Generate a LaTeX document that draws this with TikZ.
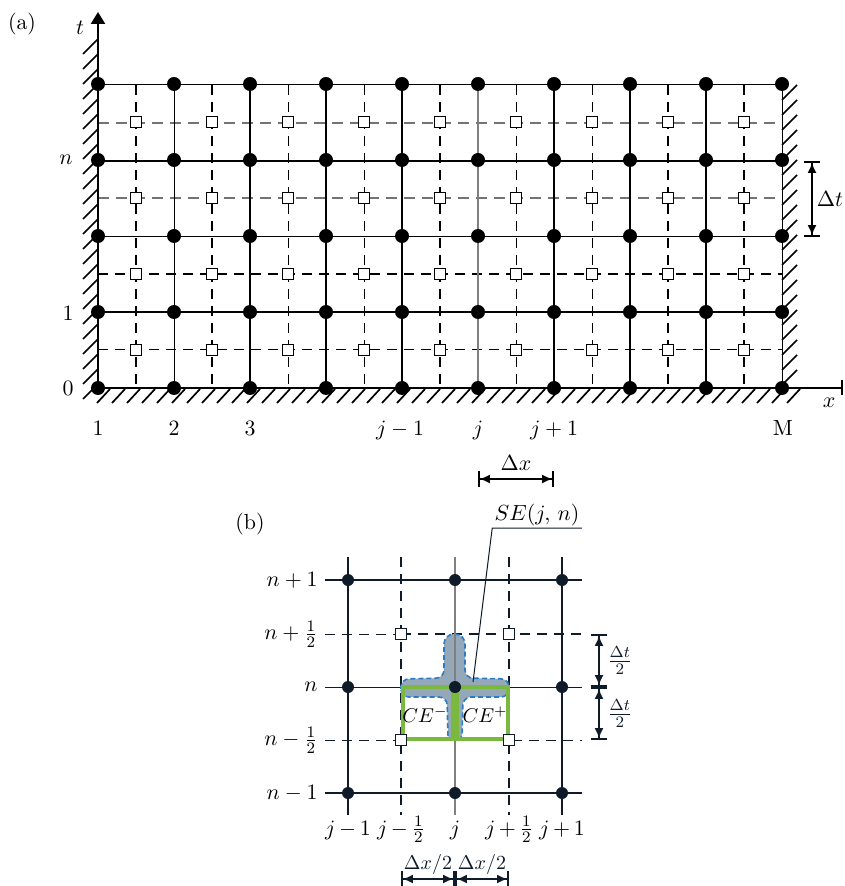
\documentclass[tikz,border=0pt,11pt]{standalone}
\usepackage{tikz}
\usetikzlibrary{arrows.meta, positioning, calc}
\usepackage{xcolor}
\definecolor{inkb}{HTML}{0F1B29}
\definecolor{cegreen}{HTML}{7AB840}
\definecolor{sefill}{HTML}{95A8B9}
\definecolor{seblue}{HTML}{2B7CC4}

\begin{document}
\begin{tikzpicture}[
    x=0.5pt, y=-0.5pt,
    lthick/.style={line width=1pt},
    lthin/.style={line width=0.5pt},
    lgray/.style={line width=0.6pt, black!50},
    dthick/.style={line width=1pt, dash pattern=on 5pt off 3.5pt},
    dthin/.style={line width=0.5pt, dash pattern=on 5pt off 3.5pt},
    dgray/.style={line width=0.6pt, black!55, dash pattern=on 5.5pt off 3.5pt},
    hatch/.style={line width=0.85pt},
    fullpt/.style={circle, fill=black, inner sep=0pt, minimum size=7pt},
    halfpt/.style={rectangle, draw=black, fill=white, line width=0.7pt, inner sep=0pt, minimum size=5.5pt},
    dimarr/.style={{Bar[width=8pt]Latex[length=5pt,width=4.5pt]}-{Latex[length=5pt,width=4.5pt]Bar[width=8pt]}, line width=0.9pt},
]
\useasboundingbox (0,0) rectangle (844,886);

% ── (a) staggered mesh ──────
\foreach \yy/\st in {350/dthin, 274/dthick, 198/dgray, 123/dgray}
    \draw[\st] (98,\yy) -- (782,\yy);
\foreach \xx/\st in {136/dthick, 212/dthick, 288/dthin, 364/dthin, 440/dthick, 516/dthin, 592/dthin, 668/dthick, 744/dthick}
    \draw[\st] (\xx,85) -- (\xx,388);
\foreach \yy/\st in {312/lthick, 237/lthin, 161/lthick, 85/lthin}
    \draw[\st] (98,\yy) -- (782,\yy);
\foreach \xx/\st in {174/lthin, 250/lthick, 326/lthick, 402/lthick, 478/lgray, 554/lthick, 630/lthick, 706/lthick, 782/lthin}
    \draw[\st] (\xx,85) -- (\xx,388);

% walls
\foreach \yy in {39,54,...,384}
    \draw[hatch] (98,\yy) -- ++(-15,15);
\foreach \xx in {110,125,...,810}
    \draw[hatch] (\xx,389) -- ++(-13,14);
\foreach \yy in {85,100,...,370}
    \draw[hatch] (782,\yy+15) -- ++(15,-15);

% axes
\coordinate (origin) at (98,388);
\coordinate (tend) at (98,12);
\coordinate (xend) at (843,388);
\draw[line width=1.2pt, -{Triangle[length=6pt,width=7pt]}] (origin) -- (tend);
\draw[line width=1.2pt, -{Bar[width=7.5pt]}] (origin) -- (xend);

% nodes of the mesh
\foreach \i in {0,...,9}
  \foreach \k in {0,...,4}
    \node[fullpt] (a-\i-\k) at ({98+76*\i},{388-76*\k}) {};
\foreach \i in {0,...,8}
  \foreach \k in {0,...,3}
    \node[halfpt] (ah-\i-\k) at ({136+76*\i},{350-76*\k}) {};

% labels
\node (lbla) at (22,24) {(a)};
\node (lblt) at (80,28) {$t$};
\node (lbln) at (66,160) {$n$};
\node (lbl1) at (68,313) {1};
\node (lbl0) at (68,388) {0};
\node (lblx) at (829,403) {$x$};
\foreach \xx/\tx in {98/1, 174/2, 250/3, 400/$j-1$, 478/$j$, 554/$j+1$, 783/M}
    \node[anchor=base] (xt-\xx) at (\xx,435) {\tx};

% spacings
\coordinate (dt-a) at (812,161);
\coordinate (dt-b) at (812,237);
\draw[dimarr] (dt-a) -- (dt-b) node[midway, right=0pt, inner xsep=2pt] (lbldt) {$\Delta t$};
\coordinate (dx-a) at (478,479);
\coordinate (dx-b) at (554,479);
\draw[dimarr] (dx-a) -- (dx-b) node[midway, above] (lbldx) {$\Delta x$};

% ── (b) solution / conservation elements ──────
\draw[dthin, inkb] (325,634) -- (401,634);
\draw[dthick, inkb] (401,634) -- (582,634);
\draw[dthin, inkb] (325,740) -- (582,740);
\draw[dthick, inkb] (401,557) -- (401,815);
\draw[dthick, inkb] (509,557) -- (509,815);
\draw[lthick, inkb] (325,580) -- (582,580);
\draw[lthin, inkb] (325,687) -- (582,687);
\draw[lthick, inkb] (325,793) -- (582,793);
\draw[lthick, inkb] (348,557) -- (348,815);
\draw[lthick, inkb] (562,557) -- (562,815);

% SE(j,n)
\filldraw[fill=sefill, draw=seblue, line width=0.8pt, dash pattern=on 2.5pt off 1.5pt, rounded corners=4pt]
    (401,697) -- (401,679) -- (444,678)
    [rounded corners=5pt] -- (444,634) -- (465,634)
    [rounded corners=4pt] -- (465,678) -- (509,679) -- (509,697) -- (463,697)
    [rounded corners=2pt] -- (462,739) -- (448,739)
    [rounded corners=4pt] -- (447,697) -- cycle;
\draw[lgray] (455,557) -- (455,815);

% CE- and CE+
\draw[cegreen, line width=1.8pt] (403,687) rectangle (453,739);
\draw[cegreen, line width=1.8pt] (457,687) rectangle (508,739);
\node[font=\small, inner sep=1pt] (ceminus) at (425,715) {$CE^-$};
\node[font=\small, inner sep=1pt] (ceplus) at (485,715) {$CE^+$};

\foreach \xx in {348,455,562}
  \foreach \yy in {580,687,793}
    \node[fullpt, fill=inkb, minimum size=6pt] (b-\xx-\yy) at (\xx,\yy) {};
\foreach \xx in {401,509}
  \foreach \yy in {634,740}
    \node[halfpt, draw=inkb] (bh-\xx-\yy) at (\xx,\yy) {};

\node (lblb) at (250,524) {(b)};
\node[anchor=south, inner sep=1pt] (selabel) at (537,528) {$SE(j,\,n)$};
\coordinate (sepoint) at (473,682);
\draw[lthin, inkb] (selabel.south east) -- (selabel.south west) -- (sepoint);

\foreach \yy/\tx in {580/$n+1$, 634/$n+\frac{1}{2}$, 687/$n$, 740/$n-\frac{1}{2}$, 793/$n-1$}
    \node[anchor=east, inner sep=0pt] (yt-\yy) at (318,\yy) {\tx};
\foreach \xx/\tx in {348/$j\,{-}\,1$, 401/$j\,{-}\,\frac{1}{2}$, 455/$j$, 509/$j\,{+}\,\frac{1}{2}$, 562/$j\,{+}\,1$}
    \node[anchor=base, inner sep=0pt] (bt-\xx) at (\xx,835) {\tx};

\coordinate (hx-a) at (401,879);
\coordinate (hx-b) at (455,879);
\coordinate (hx-c) at (509,879);
\draw[dimarr, inkb] (hx-a) -- (hx-b) node[midway, above, inner sep=2pt, font=\small] (lblhx1) {$\Delta x/2$};
\draw[dimarr, inkb] (hx-b) -- (hx-c) node[midway, above, inner sep=2pt, font=\small] (lblhx2) {$\Delta x/2$};
\coordinate (ht-a) at (599,634);
\coordinate (ht-b) at (599,687);
\coordinate (ht-c) at (599,740);
\draw[dimarr, inkb] (ht-a) -- (ht-b) node[midway, right] (lblht1) {$\frac{\Delta t}{2}$};
\draw[dimarr, inkb] (ht-b) -- (ht-c) node[midway, right] (lblht2) {$\frac{\Delta t}{2}$};

\end{tikzpicture}
\end{document}
